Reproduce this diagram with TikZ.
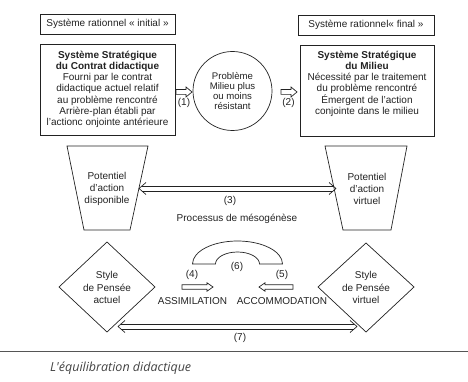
\documentclass[tikz,border=0pt]{standalone}
\usepackage{fontspec}
\setmainfont{Liberation Sans}
\newfontfamily\captionfont{Open Sans}
\usetikzlibrary{calc}
\definecolor{ink}{HTML}{222222}
\definecolor{rule}{HTML}{555555}
\tikzset{
  every node/.style={text=ink, font=\fontsize{10}{11.3}\selectfont},
  thinbox/.style={draw=ink, line width=0.7pt, minimum width=135pt, minimum height=20pt, inner sep=0pt},
  bigbox/.style={draw=ink, line width=0.7pt, minimum width=135pt, minimum height=91pt, inner sep=0pt},
  boxtext/.style={align=center, inner sep=0pt, anchor=north},
  outline/.style={draw=ink, line width=0.7pt, line join=miter},
  numlabel/.style={inner sep=1pt},
  multi/.style={align=center, inner sep=0pt, font=\fontsize{10}{12.3}\selectfont}
}
% hollow block arrow from tail #1 to tip #2 (horizontal);
% #3 = half shaft width, #4 = half head width, #5 = signed head length
\newcommand\blockarrow[5]{%
  \draw[outline] ($(#1)+(0,-#3)$) -- ($(#2)+(-#5,-#3)$) -- ($(#2)+(-#5,-#4)$) -- (#2)
    -- ($(#2)+(-#5,#4)$) -- ($(#2)+(-#5,#3)$) -- ($(#1)+(0,#3)$) -- cycle;}
% open double-headed arrow made of two parallel lines, from #1 (left) to #2 (right)
\newcommand\twinarrow[2]{%
  \draw[outline, line join=round] ($(#1)+(7,-6)$) -- (#1) -- ($(#1)+(7,6)$);
  \draw[outline, line join=round] ($(#2)+(-7,-6)$) -- (#2) -- ($(#2)+(-7,6)$);
  \draw[outline] ($(#1)+(2.9,-2.5)$) -- ($(#2)+(-2.9,-2.5)$);
  \draw[outline] ($(#1)+(2.9,2.5)$) -- ($(#2)+(-2.9,2.5)$);}
\begin{document}
\begin{tikzpicture}[x=1pt,y=-1pt]
  \useasboundingbox (0,0) rectangle (468,382);

  % top row: the two rational systems
  \node[thinbox] (rinit) at (107.5,24) {Système rationnel « initial »};
  \node[thinbox, minimum width=136pt] (rfinal) at (366,25) {Système rationnel« final »};

  % strategic systems
  \node[bigbox] (sscd) at (107.5,89.5) {};
  \node[boxtext] (sscdtext) at (107.5,50.5) {\textbf{Système Stratégique}\\\textbf{du Contrat didactique}\\Fourni par le contrat\\didactique actuel relatif\\au problème rencontré\\Arrière-plan établi par\\l'actionc onjointe antérieure};
  \node[bigbox, minimum width=134pt] (ssm) at (367,90.5) {};
  \node[boxtext] (ssmtext) at (367,50.5) {\textbf{Système Stratégique}\\\textbf{du Milieu}\\Nécessité par le traitement\\du problème rencontré\\Émergent de l'action\\conjointe dans le milieu};

  % the problem in the milieu
  \node[circle, draw=ink, line width=0.7pt, minimum size=79pt, inner sep=0pt, align=center,
        font=\fontsize{9.6}{9.8}\selectfont] (pb) at (232.5,91) {Problème\\Milieu plus\\ou moins\\résistant};

  \coordinate (a1tail) at (176,92);
  \coordinate (a1tip) at (192,92);
  \blockarrow{a1tail}{a1tip}{2.4}{5}{6}
  \node[numlabel] (l1) at (184,102.5) {(1)};
  \coordinate (a2tail) at (281,92);
  \coordinate (a2tip) at (297,92);
  \blockarrow{a2tail}{a2tip}{2.4}{5}{6}
  \node[numlabel] (l2) at (288.5,102.5) {(2)};

  % potentials of action
  \draw[outline] (67,146) -- (148,146) -- (130,230) -- (84,230) -- cycle;
  \draw[outline] (325,146) -- (407,146) -- (391,230) -- (343,230) -- cycle;
  \node[multi] (potL) at (107,189) {Potentiel\\d'action\\disponible};
  \node[multi] (potR) at (367,189) {Potentiel\\d'action\\virtuel};

  \coordinate (a3l) at (139,188.5);
  \coordinate (a3r) at (336,188.5);
  \twinarrow{a3l}{a3r}
  \node[numlabel] (l3) at (230,200.5) {(3)};
  \node (meso) at (237,219) {Processus de mésogénèse};

  % styles of thought
  \draw[outline] (59,287) -- (107,242) -- (155,287) -- (107,332) -- cycle;
  \draw[outline] (318,287) -- (366,243) -- (414,287) -- (366,332) -- cycle;
  \node[multi] (styL) at (107,287.5) {Style\\de Pensée\\actuel};
  \node[multi] (styR) at (366,287.5) {Style\\de Pensée\\virtuel};

  % assimilation / accommodation cycle
  \draw[outline] (192.5,264) arc[start angle=180, end angle=360, x radius=45, y radius=23]
    -- (259.5,264) arc[start angle=360, end angle=180, x radius=22, y radius=12] -- cycle;
  \node[numlabel] (l6) at (237,267) {(6)};
  \node[numlabel] (l4) at (192,274.5) {(4)};
  \node[numlabel] (l5) at (282,274.5) {(5)};
  \coordinate (a4tail) at (182,287);
  \coordinate (a4tip) at (213,287);
  \blockarrow{a4tail}{a4tip}{2.2}{4.2}{6}
  \coordinate (a5tail) at (293,287);
  \coordinate (a5tip) at (259,287);
  \blockarrow{a5tail}{a5tip}{2.2}{4.2}{-6}
  \node (assim) at (192.5,301.5) {ASSIMILATION};
  \node (accom) at (282,301.5) {ACCOMMODATION};

  \coordinate (a7l) at (118,326.5);
  \coordinate (a7r) at (357,326.5);
  \twinarrow{a7l}{a7r}
  \node[numlabel] (l7) at (240,338) {(7)};

  % caption
  \coordinate (ruleL) at (0,351);
  \coordinate (ruleR) at (468,351);
  \draw[rule, line width=1pt] (ruleL) -- (ruleR);
  \node[anchor=west, inner sep=0pt, text=ink!85, font=\captionfont\itshape\fontsize{12.5}{14}\selectfont] (cap) at (50,368) {L'équilibration didactique};
\end{tikzpicture}
\end{document}
